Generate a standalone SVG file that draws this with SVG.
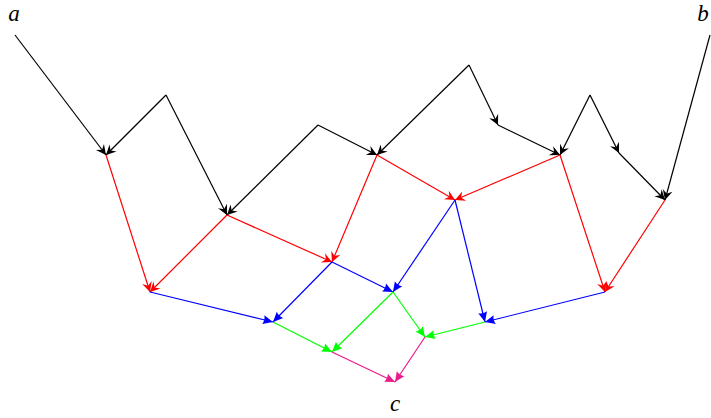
<svg xmlns="http://www.w3.org/2000/svg" width="711" height="418" viewBox="0 0 711 418">
<style>
.lbl{font-family:"Liberation Serif","DejaVu Serif",serif;font-style:italic;font-size:23px;fill:#000}
.e{fill:none;stroke-width:1.2}
.k{stroke:#000}.r{stroke:#f00}.bl{stroke:#00f}.g{stroke:#0f0}.m{stroke:#ec1b8c}
</style>
<defs>
<marker id="ak" markerUnits="userSpaceOnUse" orient="auto" markerWidth="14" markerHeight="14" refX="0" refY="0" viewBox="-12 -7 14 14" overflow="visible"><path d="M0,0 L-10,-5 L-6.5,0 L-10,5 Z" fill="#000"/></marker>
<marker id="ar" markerUnits="userSpaceOnUse" orient="auto" markerWidth="14" markerHeight="14" refX="0" refY="0" viewBox="-12 -7 14 14" overflow="visible"><path d="M0,0 L-10,-5 L-6.5,0 L-10,5 Z" fill="#f00"/></marker>
<marker id="ab" markerUnits="userSpaceOnUse" orient="auto" markerWidth="14" markerHeight="14" refX="0" refY="0" viewBox="-12 -7 14 14" overflow="visible"><path d="M0,0 L-10,-4.5 Q-8,0 -10,4.5 Z" fill="#00f"/></marker>
<marker id="ag" markerUnits="userSpaceOnUse" orient="auto" markerWidth="14" markerHeight="14" refX="0" refY="0" viewBox="-12 -7 14 14" overflow="visible"><path d="M0,0 L-10,-4.5 Q-8,0 -10,4.5 Z" fill="#0f0"/></marker>
<marker id="am" markerUnits="userSpaceOnUse" orient="auto" markerWidth="14" markerHeight="14" refX="0" refY="0" viewBox="-12 -7 14 14" overflow="visible"><path d="M0,0 L-10,-4.5 Q-8,0 -10,4.5 Z" fill="#ec1b8c"/></marker>
</defs>
<g id="node-a"><text class="lbl" x="14" y="21" text-anchor="middle">a</text></g>
<g id="node-b"><text class="lbl" x="703" y="21" text-anchor="middle">b</text></g>
<g id="node-c"><text class="lbl" x="395" y="411" text-anchor="middle">c</text></g>
<g id="connectors">
<path class="e k" d="M15,35 L106,155" marker-end="url(#ak)"/>
<path class="e k" d="M166,95 L106,155" marker-end="url(#ak)"/>
<path class="e k" d="M166,95 L227,215" marker-end="url(#ak)"/>
<path class="e k" d="M318,125 L227,215" marker-end="url(#ak)"/>
<path class="e k" d="M318,125 L377,155" marker-end="url(#ak)"/>
<path class="e k" d="M469,65 L377,155" marker-end="url(#ak)"/>
<path class="e k" d="M469,65 L498,125" marker-end="url(#ak)"/>
<path class="e k" d="M498,125 L560,155" marker-end="url(#ak)"/>
<path class="e k" d="M590,95 L560,155" marker-end="url(#ak)"/>
<path class="e k" d="M590,95 L619,153" marker-end="url(#ak)"/>
<path class="e k" d="M619,153 L665,200" marker-end="url(#ak)"/>
<path class="e k" d="M710,35 L665,200" marker-end="url(#ak)"/>
<path class="e r" d="M106,155 L150,292" marker-end="url(#ar)"/>
<path class="e r" d="M227,215 L150,292" marker-end="url(#ar)"/>
<path class="e r" d="M227,215 L332,262" marker-end="url(#ar)"/>
<path class="e r" d="M377,155 L332,262" marker-end="url(#ar)"/>
<path class="e r" d="M377,155 L455,200" marker-end="url(#ar)"/>
<path class="e r" d="M560,155 L455,200" marker-end="url(#ar)"/>
<path class="e r" d="M560,155 L605,292" marker-end="url(#ar)"/>
<path class="e r" d="M665,200 L605,292" marker-end="url(#ar)"/>
<path class="e bl" d="M150,292 L273,322" marker-end="url(#ab)"/>
<path class="e bl" d="M332,262 L273,322" marker-end="url(#ab)"/>
<path class="e bl" d="M332,262 L393,292" marker-end="url(#ab)"/>
<path class="e bl" d="M455,200 L393,292" marker-end="url(#ab)"/>
<path class="e bl" d="M455,200 L485,322" marker-end="url(#ab)"/>
<path class="e bl" d="M605,292 L485,322" marker-end="url(#ab)"/>
<path class="e g" d="M273,322 L332,352" marker-end="url(#ag)"/>
<path class="e g" d="M393,292 L332,352" marker-end="url(#ag)"/>
<path class="e g" d="M393,292 L425,337" marker-end="url(#ag)"/>
<path class="e g" d="M485,322 L425,337" marker-end="url(#ag)"/>
<path class="e m" d="M332,352 L395,382" marker-end="url(#am)"/>
<path class="e m" d="M425,337 L395,382" marker-end="url(#am)"/>
</g>
</svg>
